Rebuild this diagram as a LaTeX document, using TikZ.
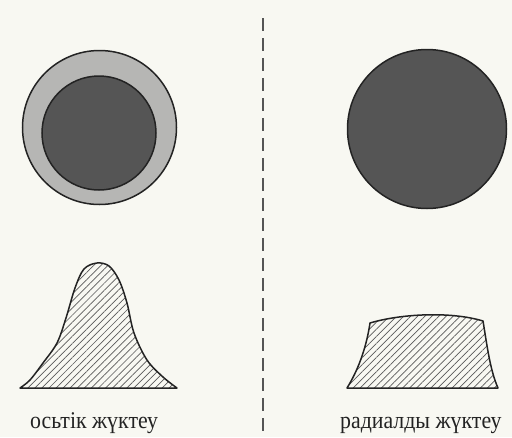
\documentclass[tikz,border=0pt]{standalone}
\usepackage{fontspec}
\setmainfont{Liberation Serif}
\usepackage{tikz}
\usetikzlibrary{patterns.meta,positioning}
\definecolor{paper}{RGB}{248,248,242}
\definecolor{ringgray}{RGB}{182,182,180}
\definecolor{coregray}{RGB}{85,85,85}
\definecolor{inkgray}{RGB}{35,35,35}
\definecolor{hatchgray}{RGB}{90,90,90}

\begin{document}
\begin{tikzpicture}[
				x=1pt, y=-1pt,
				outline/.style={draw=inkgray, line width=1.5pt},
				ring/.style={outline, fill=ringgray},
				core/.style={outline, fill=coregray},
				load/.style={outline, line join=round,
					pattern={Lines[angle=45, distance=5pt, line width=0.7pt]},
					pattern color=hatchgray},
				divider/.style={draw=coregray, line width=1.6pt, dash pattern=on 13pt off 7pt},
				caption/.style={font=\fontsize{24}{28}\selectfont, text=inkgray, inner sep=0pt,
					xscale=0.91}
				]
				
				% Page and margins
				\fill[paper] (0,0) rectangle (512,437);
				\useasboundingbox (0,0) rectangle (512,437);
				
				% Divider between the two cases
				\coordinate (divtop) at (263,18);
				\coordinate (divbot) at (263,437);
				\draw[divider] (divtop) -- (divbot);
				
				% Left: axial load, ring with core
				\draw[ring] (99.5,127.5) circle (77);
				\draw[core] (99,133) circle (57);
				
				% Right: radial load, full core
				\draw[core] (427,129) circle (79.5);
				
				% Left load curve (peak)
				\draw[load] plot[smooth, tension=0.55] coordinates {
					(20,388) (30,380) (43,363) (57,343) (66,318) (75,288) (84,269)
					(97,263) (109,266) (119,280) (127,303) (134,333) (147,360) (163,377) (177,388)}
					-- cycle;
				
				% Right load curve (flat)
				\draw[load] (347,388)
					.. controls (357,372) and (366,350) .. (370,323)
					.. controls (400,314) and (450,311) .. (483,321)
					.. controls (487,345) and (490,370) .. (498,388)
					-- cycle;
				
				% Captions
				\node[caption, anchor=base west] (axial) at (30,428) {осьтік жүктеу};
				\node[caption, anchor=base west] (radial) at (340,428) {радиалды жүктеу};
				
			\end{tikzpicture}
\end{document}
